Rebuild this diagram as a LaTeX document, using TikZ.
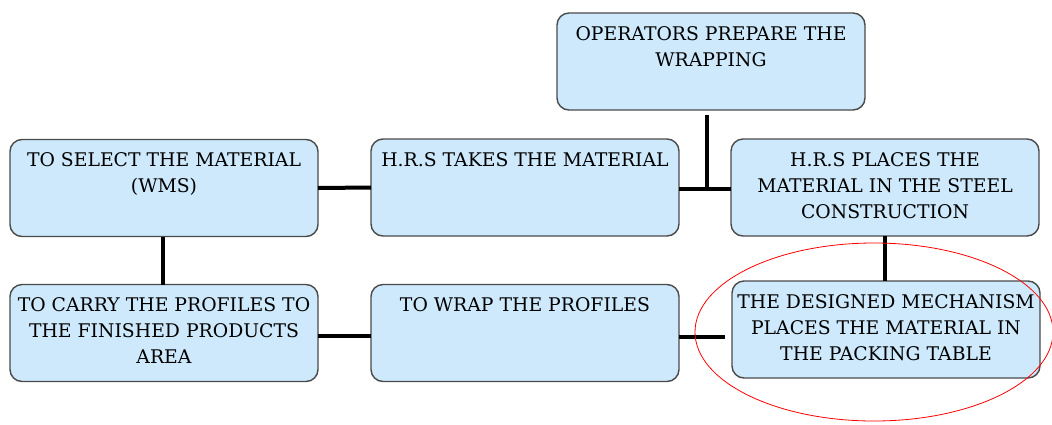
\documentclass[tikz,border=0pt]{standalone}
\usepackage{fontspec}
\setmainfont{DejaVu Serif}
\usetikzlibrary{calc}

\definecolor{boxfill}{HTML}{CDE9FB}
\definecolor{boxline}{HTML}{4A4A4A}

% step text: centred, hung from the top of the box
\newcommand\steptext[1]{\parbox[c][97pt][t]{304pt}{\centering\fontsize{18.8}{26}\selectfont\rule{0pt}{27pt}#1\par}}

\tikzset{
  stepbox/.style={draw=boxline, line width=1.4pt, fill=boxfill, rounded corners=12pt,
    minimum width=308pt, minimum height=97pt, inner sep=0pt, outer sep=0pt},
  link/.style={line width=4pt, black},
}

\begin{document}
\begin{tikzpicture}[x=1pt, y=-1pt]
\useasboundingbox (0,0) rectangle (1052,424);

\node[stepbox] (t) at (711,61.5)  {\steptext{OPERATORS PREPARE THE\\WRAPPING}};
\node[stepbox] (a) at (164,188)   {\steptext{TO SELECT THE MATERIAL\\(WMS)}};
\node[stepbox] (b) at (525,187.5) {\steptext{H.R.S TAKES THE MATERIAL}};
\node[stepbox] (c) at (885,187.5) {\steptext{H.R.S PLACES THE\\MATERIAL IN THE STEEL\\CONSTRUCTION}};
\node[stepbox] (d) at (164,333)   {\steptext{TO CARRY THE PROFILES TO\\THE FINISHED PRODUCTS\\AREA}};
\node[stepbox] (e) at (525,333)   {\steptext{TO WRAP THE PROFILES}};
\node[stepbox] (f) at (886,329.5) {\steptext{THE DESIGNED MECHANISM\\PLACES THE MATERIAL IN\\THE PACKING TABLE}};

% connectors (offsets in picture units: positive y is downwards)
\draw[link] (a.east) -- (b.west);
\coordinate (bc) at ($(b.east)+(0,1.5)$);
\draw[link] (bc) -- (bc -| c.west);
\coordinate (tj) at ($(t.south)+(-4,5)$);
\draw[link] (tj) -- (tj |- bc);
\draw[link] ([xshift=-1pt]a.south) -- ([xshift=-1pt]a.south |- d.north);
\coordinate (de) at ($(d.east)+(0,3)$);
\draw[link] (de) -- (de -| e.west);
\draw[link] (c.south) -- (c.south |- f.north);
\coordinate (fe) at ($(f.west)+(-7,7.5)$);
\draw[link] (e.east |- fe) -- (fe);

% highlight around the new mechanism
\draw[red, line width=0.8pt] (874,332) ellipse (179 and 89);
\end{tikzpicture}
\end{document}
